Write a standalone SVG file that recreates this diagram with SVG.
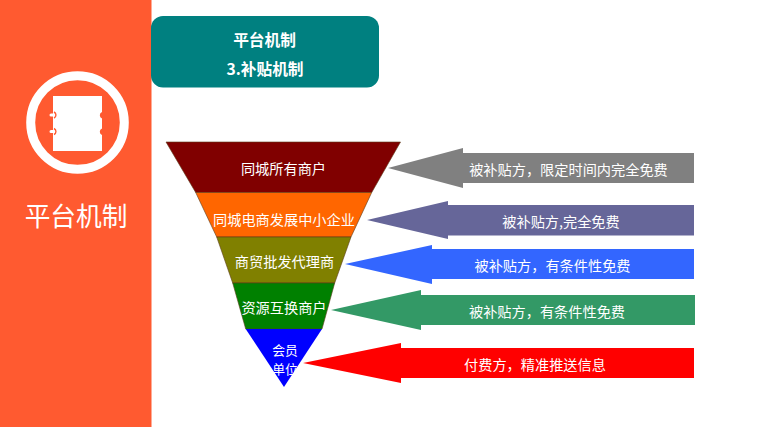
<svg xmlns="http://www.w3.org/2000/svg" width="760" height="427" viewBox="0 0 760 427">
<style>
text{font-family:"Noto Sans CJK SC","Noto Sans",sans-serif;fill:#fff;text-anchor:middle;dominant-baseline:central}
.band{font-size:14.200px}
.tip{font-size:12.800px}
.arr{font-size:14.200px}
.ttl{font-size:15.700px;font-weight:700}
.edge{stroke:#5a3a1a;stroke-width:.6}
</style>
<rect width="760" height="427" fill="#fff"/>
<g id="sidebar">
<rect x="0" y="0" width="151.500" height="427" fill="#ff5a30"/>
<circle cx="77.500" cy="122.500" r="46.800" fill="none" stroke="#fff" stroke-width="9"/>
<path d="M53 96H102V112A3.500 3.500 0 0 0 102 118.500V128.500A3.500 3.500 0 0 0 102 135V151H53Z" fill="#fff"/>
<path d="M51 115H58M51 131.500H58" stroke="#fff" stroke-width="3" stroke-linecap="round"/>
<path d="M54 112A3.300 3.300 0 0 1 54 118M54 128.500A3.300 3.300 0 0 1 54 134.500" fill="none" stroke="#ff5a30" stroke-width="1.400"/>
<text x="76" y="214" font-size="25.700">平台机制</text>
</g>
<g id="title">
<rect x="151" y="16" width="228" height="71.500" rx="12" fill="#008080"/>
<text class="ttl" x="264.500" y="39">平台机制</text>
<text class="ttl" x="265" y="68">3.补贴机制</text>
</g>
<g id="funnel-1"><path class="edge" d="M166 142H400.500L371.700 192.500H195.700Z" fill="#800000"/><text class="band" x="283.500" y="168">同城所有商户</text></g>
<g id="funnel-2"><path class="edge" d="M195.700 192.500H371.700L351 237H216.700Z" fill="#ff6600"/><text class="band" x="284" y="219">同城电商发展中小企业</text></g>
<g id="funnel-3"><path class="edge" d="M216.700 237H351L334.700 283H232.700Z" fill="#808000"/><text class="band" x="284.500" y="261">商贸批发代理商</text></g>
<g id="funnel-4"><path class="edge" d="M232.700 283H334.700L322 329H245.700Z" fill="#008000"/><text class="band" x="284" y="307">资源互换商户</text></g>
<g id="funnel-5"><path d="M245.700 329H322L284 387Z" fill="#0000ff"/><text class="tip" x="285" y="349.500">会员</text><text class="tip" x="285" y="368.500">单位</text></g>
<g id="arrow-1"><path d="M388 168L463 148V153H694V183H463V188Z" fill="#808080"/><text class="arr" x="568.500" y="169">被补贴方，限定时间内完全免费</text></g>
<g id="arrow-2"><path d="M367 220L448 201V205H694V235.500H448V239Z" fill="#666699"/><text class="arr" x="561" y="221">被补贴方,完全免费</text></g>
<g id="arrow-3"><path d="M345 264L432 245V249H694V279H432V284Z" fill="#3366ff"/><text class="arr" x="552.500" y="265">被补贴方，有条件性免费</text></g>
<g id="arrow-4"><path d="M331 310L421 290V295H695V325H421V330Z" fill="#339966"/><text class="arr" x="547" y="311">被补贴方，有条件性免费</text></g>
<g id="arrow-5"><path d="M303 363L401 343V348H694V378H401V383Z" fill="#ff0000"/><text class="arr" x="535" y="364">付费方，精准推送信息</text></g>
</svg>
